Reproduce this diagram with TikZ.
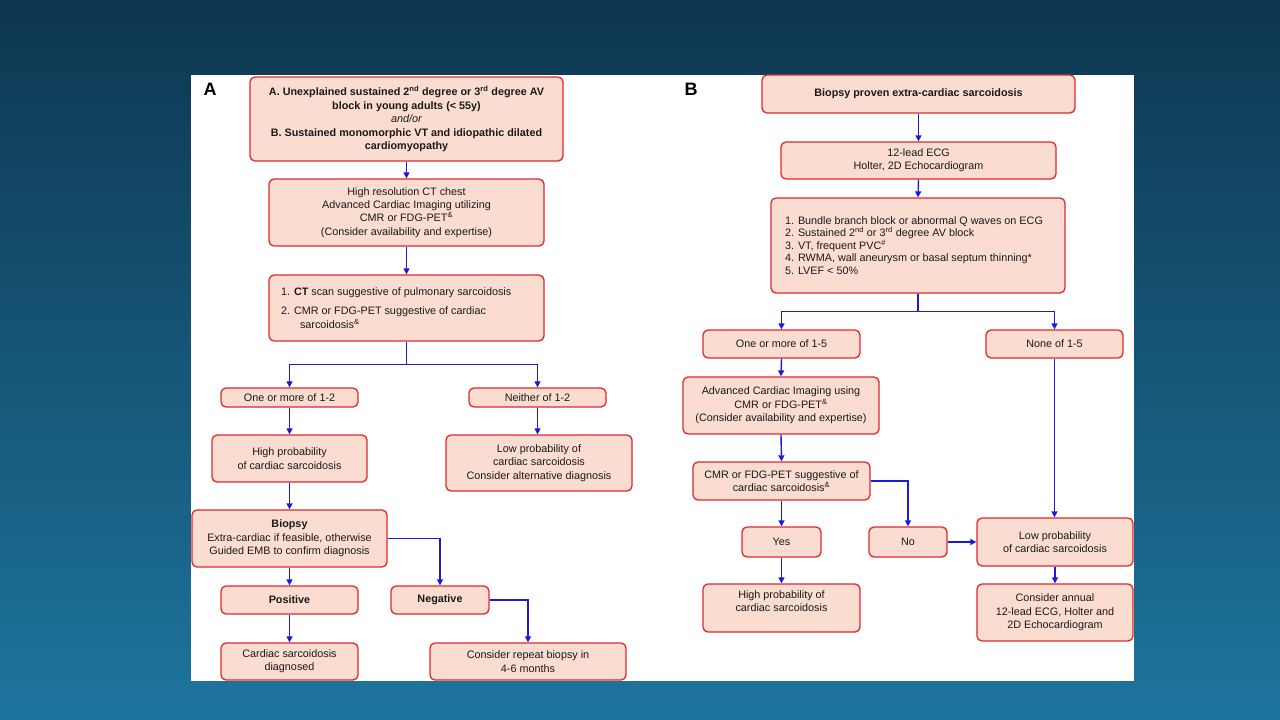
\documentclass[tikz,border=0pt]{standalone}
\usepackage{fontspec}
\setmainfont{Liberation Sans}
\usetikzlibrary{arrows.meta}
\definecolor{bgtop}{HTML}{0E3650}
\definecolor{bgbot}{HTML}{1D759D}
\definecolor{boxfill}{HTML}{FADCD0}
\definecolor{boxline}{HTML}{E0282E}
\definecolor{arrblue}{HTML}{1A1AD8}
\definecolor{txt}{HTML}{1A1A1A}
\tikzset{
  box/.style={draw=boxline, fill=boxfill, line width=1.3pt, rounded corners=5pt,
    align=center, inner sep=0pt, text=txt, font=\fontsize{10.8}{13.3}\selectfont},
  boldbox/.style={box, font=\fontsize{10.8}{13.6}\selectfont\bfseries},
  arr/.style={draw=arrblue, line width=1.4pt, -{Triangle[length=6pt,width=6pt]}},
  panellabel/.style={font=\fontsize{18}{20}\selectfont\bfseries, text=black, inner sep=0pt},
}
\begin{document}
\begin{tikzpicture}[x=1pt,y=-1pt]
\useasboundingbox (0,0) rectangle (1280,720);
\shade[top color=bgtop, bottom color=bgbot] (0,0) rectangle (1280,720);
\fill[white] (191,75) rectangle (1134,681);

% Panel labels
\node[panellabel] (LA) at (210,89) {A};
\node[panellabel] (LB) at (691,89) {B};

% ---------- Panel A ----------
\node[boldbox, minimum width=313pt, minimum height=84pt] (A1) at (406.5,119)
  {A. Unexplained sustained 2\textsuperscript{nd} degree or 3\textsuperscript{rd} degree AV\\
   block in young adults (< 55y)\\
   {\mdseries\itshape and/or}\\
   B. Sustained monomorphic VT and idiopathic dilated\\
   cardiomyopathy};
\node[box, minimum width=275pt, minimum height=67pt] (A2) at (406.5,212.5)
  {High resolution CT chest\\
   Advanced Cardiac Imaging utilizing\\
   CMR or FDG-PET\textsuperscript{\&}\\
   (Consider availability and expertise)};
\node[box, text width=251pt, inner xsep=12pt, minimum height=66pt, align=flush left] (A3) at (406.5,308)
  {1. \textbf{CT} scan suggestive of pulmonary sarcoidosis\\[6pt]
   2. CMR or FDG-PET suggestive of cardiac\\
   \hspace*{19pt}sarcoidosis\textsuperscript{\&}};
\node[box, minimum width=137pt, minimum height=19pt] (A4) at (289.5,397.5) {One or more of 1-2};
\node[box, minimum width=137pt, minimum height=19pt] (A5) at (537.5,397.5) {Neither of 1-2};
\node[box, minimum width=155pt, minimum height=47pt] (A6) at (289.5,458.5)
  {High probability\\ of cardiac sarcoidosis};
\node[box, minimum width=186pt, minimum height=56pt] (A7) at (539,463)
  {Low probability of\\ cardiac sarcoidosis\\ Consider alternative diagnosis};
\node[box, minimum width=195pt, minimum height=57pt] (A8) at (289.5,538.5)
  {\textbf{Biopsy}\\ Extra-cardiac if feasible, otherwise\\ Guided EMB to confirm diagnosis};
\node[boldbox, minimum width=137pt, minimum height=28pt] (A9) at (289.5,600) {Positive};
\node[boldbox, minimum width=98pt, minimum height=28pt] (A10) at (440,600) {Negative};
\node[box, minimum width=137pt, minimum height=37pt] (A11) at (289.5,661.5)
  {Cardiac sarcoidosis\\ diagnosed};
\node[box, minimum width=196pt, minimum height=37pt] (A12) at (528,661.5)
  {Consider repeat biopsy in\\ 4-6 months};

\draw[arr] (A1.south) -- (A2.north);
\draw[arr] (A2.south) -- (A3.north);
\draw[arr] (A3.south) -- ++(0,23) -| (A4.north);
\draw[arr] (A3.south) -- ++(0,23) -| (A5.north);
\draw[arr] (A4.south) -- (A6.north);
\draw[arr] (A5.south) -- (A5.south |- A7.north);
\draw[arr] (A6.south) -- (A8.north);
\draw[arr] (A8.south) -- (A9.north);
\draw[arr] (A8.east) -| (A10.north);
\draw[arr] (A9.south) -- (A11.north);
\draw[arr] (A10.east) -| (A12.north);

% ---------- Panel B ----------
\node[boldbox, minimum width=313pt, minimum height=38pt] (B1) at (918.5,94)
  {Biopsy proven extra-cardiac sarcoidosis};
\node[box, minimum width=275pt, minimum height=37pt] (B2) at (918.5,160.5)
  {12-lead ECG\\ Holter, 2D Echocardiogram};
\node[box, text width=266pt, inner xsep=14pt, minimum height=95pt, align=flush left,
      font=\fontsize{10.8}{12.4}\selectfont] (B3) at (918,245.5)
  {1. Bundle branch block or abnormal Q waves on ECG\\
   2. Sustained 2\textsuperscript{nd} or 3\textsuperscript{rd} degree AV block\\
   3. VT, frequent PVC\textsuperscript{\#}\\
   4. RWMA, wall aneurysm or basal septum thinning*\\
   5. LVEF < 50\%};
\node[box, minimum width=157pt, minimum height=28pt] (B4) at (781.5,344) {One or more of 1-5};
\node[box, minimum width=137pt, minimum height=28pt] (B5) at (1054.5,344) {None of 1-5};
\node[box, minimum width=196pt, minimum height=57pt] (B6) at (781,405.5)
  {Advanced Cardiac Imaging using\\ CMR or FDG-PET\textsuperscript{\&}\\ (Consider availability and expertise)};
\node[box, minimum width=177pt, minimum height=38pt] (B7) at (781.5,481)
  {CMR or FDG-PET suggestive of\\ cardiac sarcoidosis\textsuperscript{\&}};
\node[box, minimum width=79pt, minimum height=30pt] (B8) at (781.5,542) {Yes};
\node[box, minimum width=78pt, minimum height=30pt] (B9) at (908,542) {No};
\node[box, minimum width=156pt, minimum height=48pt] (B10) at (1055,542)
  {Low probability\\ of cardiac sarcoidosis};
\node[box, minimum width=157pt, minimum height=48pt] (B11) at (781.5,608)
  {High probability of\\ cardiac sarcoidosis\\[-4pt]\strut};
\node[box, minimum width=156pt, minimum height=57pt] (B12) at (1055,612.5)
  {Consider annual\\ 12-lead ECG, Holter and\\ 2D Echocardiogram};

\draw[arr] (B1.south) -- (B2.north);
\draw[arr] (B2.south) -- (B3.north);
\draw[arr] (B3.south) -- ++(0,18) -| (B4.north);
\draw[arr] (B3.south) -- ++(0,18) -| (B5.north);
\draw[arr] (B4.south) -- (B6.north);
\draw[arr] (B6.south) -- (B7.north);
\draw[arr] (B7.south) -- (B8.north);
\draw[arr] (B7.east) -| (B9.north);
\draw[arr] (B9.east) -- (B10.west);
\draw[arr] (B5.south) -- (B5.south |- B10.north);
\draw[arr] (B8.south) -- (B11.north);
\draw[arr] (B10.south) -- (B12.north);
\end{tikzpicture}
\end{document}
